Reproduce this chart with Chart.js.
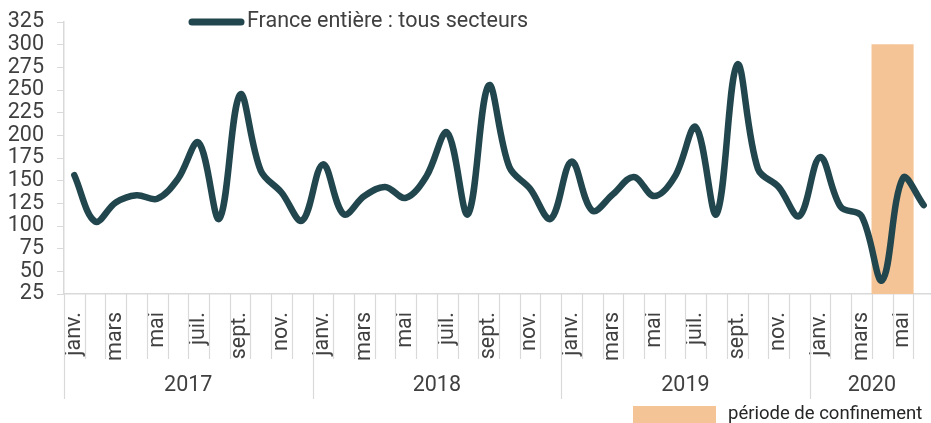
<!DOCTYPE html>
<html>
<head>
<meta charset="utf-8">
<script src="https://cdn.jsdelivr.net/npm/chart.js@4/dist/chart.umd.min.js"></script>
<style>
  html, body { margin: 0; padding: 0; background: #ffffff; overflow: hidden; }
  #wrap { position: relative; width: 936px; height: 423px; }
</style>
</head>
<body>
<div id="wrap"><canvas id="c" width="936" height="423"></canvas></div>
<script>
// ---- Data ----
const years = ['2017', '2018', '2019', '2020'];
const monthNames = ['janv.', 'févr.', 'mars', 'avr.', 'mai', 'juin', 'juil.', 'août', 'sept.', 'oct.', 'nov.', 'déc.'];
const monthsPerYear = [12, 12, 12, 6];
const values2017 = [156, 105, 126, 134, 130, 152, 192, 108, 245, 161, 137, 106];
const values2018 = [168, 113, 133, 143, 131, 155, 203, 113, 255, 165, 141, 108];
const values2019 = [171, 117, 135, 154, 133, 155, 209, 113, 278, 163, 143, 111];
const values2020 = [176, 121, 111, 40, 153, 123];
const confinementMonths = ['2020-avr.', '2020-mai'];
const confinementTop = 300;
const confinementBase = 25;
const seriesLabel = 'France entière : tous secteurs';
const confinementLabel = 'période de confinement';
const yTicksMin = 25, yTicksMax = 325, yTicksStep = 25;

// ---- Derived ----
const categories = [];
const yearOfCat = [];
years.forEach((y, yi) => {
  for (let m = 0; m < monthsPerYear[yi]; m++) {
    categories.push(y + '-' + monthNames[m]);
    yearOfCat.push(y);
  }
});
const series = [].concat(values2017, values2018, values2019, values2020);
const confinement = categories.map(c => confinementMonths.includes(c) ? [confinementBase, confinementTop] : null);

const LINE_COLOR = '#22464E';
const BAR_COLOR = '#F4C497';
const TEXT_COLOR = '#404040';
const AXIS_COLOR = '#D9D9D9';
const FONT = 'Roboto';
const FS = 21.5;

const decorations = {
  id: 'decorations',
  afterDraw(chart) {
    const ctx = chart.ctx;
    const x = chart.scales.x;
    const area = chart.chartArea;
    const n = categories.length;
    const half = (x.getPixelForValue(1) - x.getPixelForValue(0)) / 2;
    ctx.save();
    // separators
    ctx.strokeStyle = AXIS_COLOR;
    ctx.lineWidth = 1.2;
    for (let i = 0; i <= n; i++) {
      const px = Math.round((i < n ? x.getPixelForValue(i) - half : x.getPixelForValue(n - 1) + half)) + 0.5;
      const isYear = i === 0 || i === n || yearOfCat[i] !== yearOfCat[i - 1];
      ctx.beginPath();
      ctx.moveTo(px, area.bottom);
      ctx.lineTo(px, isYear ? area.bottom + 105 : area.bottom + 65);
      ctx.stroke();
    }
    // year labels
    ctx.fillStyle = TEXT_COLOR;
    ctx.font = FS + 'px ' + FONT;
    ctx.textAlign = 'center';
    ctx.textBaseline = 'middle';
    years.forEach(y => {
      const first = yearOfCat.indexOf(y);
      const last = yearOfCat.lastIndexOf(y);
      const x0 = x.getPixelForValue(first) - half;
      const x1 = x.getPixelForValue(last) + half;
      ctx.fillText(y, (x0 + x1) / 2, area.bottom + 92);
    });
    // top legend (line series)
    const ds0 = chart.data.datasets[0];
    ctx.strokeStyle = ds0.borderColor;
    ctx.lineWidth = 7;
    ctx.lineCap = 'round';
    ctx.beginPath();
    ctx.moveTo(192, 22);
    ctx.lineTo(241, 22);
    ctx.stroke();
    ctx.textAlign = 'left';
    ctx.fillText(ds0.label, 247, 22);
    // bottom legend (confinement)
    const ds1 = chart.data.datasets[1];
    ctx.fillStyle = ds1.backgroundColor;
    ctx.fillRect(633, 406, 83, 17);
    ctx.fillStyle = '#262626';
    ctx.font = '18.5px ' + FONT;
    ctx.fillText(ds1.label, 728, 414);
    ctx.restore();
  }
};

new Chart(document.getElementById('c'), {
  type: 'bar',
  data: {
    labels: categories,
    datasets: [
      {
        type: 'line',
        label: seriesLabel,
        data: series,
        borderColor: LINE_COLOR,
        backgroundColor: LINE_COLOR,
        borderWidth: 6.5,
        pointRadius: 0,
        tension: 0.36,
        borderCapStyle: 'round',
        borderJoinStyle: 'round',
        order: 0
      },
      {
        type: 'bar',
        label: confinementLabel,
        data: confinement,
        backgroundColor: BAR_COLOR,
        borderWidth: 0,
        barPercentage: 1,
        categoryPercentage: 1,
        order: 1
      }
    ]
  },
  options: {
    responsive: false,
    animation: false,
    devicePixelRatio: 1,
    layout: { padding: { top: 22, right: 2, left: 0, bottom: 0 } },
    plugins: { legend: { display: false }, tooltip: { enabled: false } },
    scales: {
      x: {
        offset: true,
        grid: { display: false, drawTicks: false },
        border: { display: true, color: AXIS_COLOR, width: 1.5 },
        ticks: {
          autoSkip: false,
          maxRotation: 90,
          minRotation: 90,
          padding: 18,
          color: TEXT_COLOR,
          font: { family: FONT, size: FS },
          callback: function (v, i) {
            return i % 2 === 0 ? monthNames[i % 12] : '';
          }
        },
        afterFit(scale) { scale.height = 129; scale.paddingLeft = 0; scale.paddingRight = 0; }
      },
      y: {
        min: yTicksMin,
        max: yTicksMax,
        grid: { drawOnChartArea: false, drawTicks: true, tickLength: 7, color: AXIS_COLOR },
        border: { display: true, color: AXIS_COLOR, width: 1.5 },
        ticks: {
          stepSize: yTicksStep,
          autoSkip: false,
          padding: 13,
          color: TEXT_COLOR,
          font: { family: FONT, size: FS }
        },
        afterFit(scale) { scale.width = 64; scale.paddingTop = 0; scale.paddingBottom = 0; }
      }
    }
  },
  plugins: [decorations]
});
</script>
</body>
</html>
